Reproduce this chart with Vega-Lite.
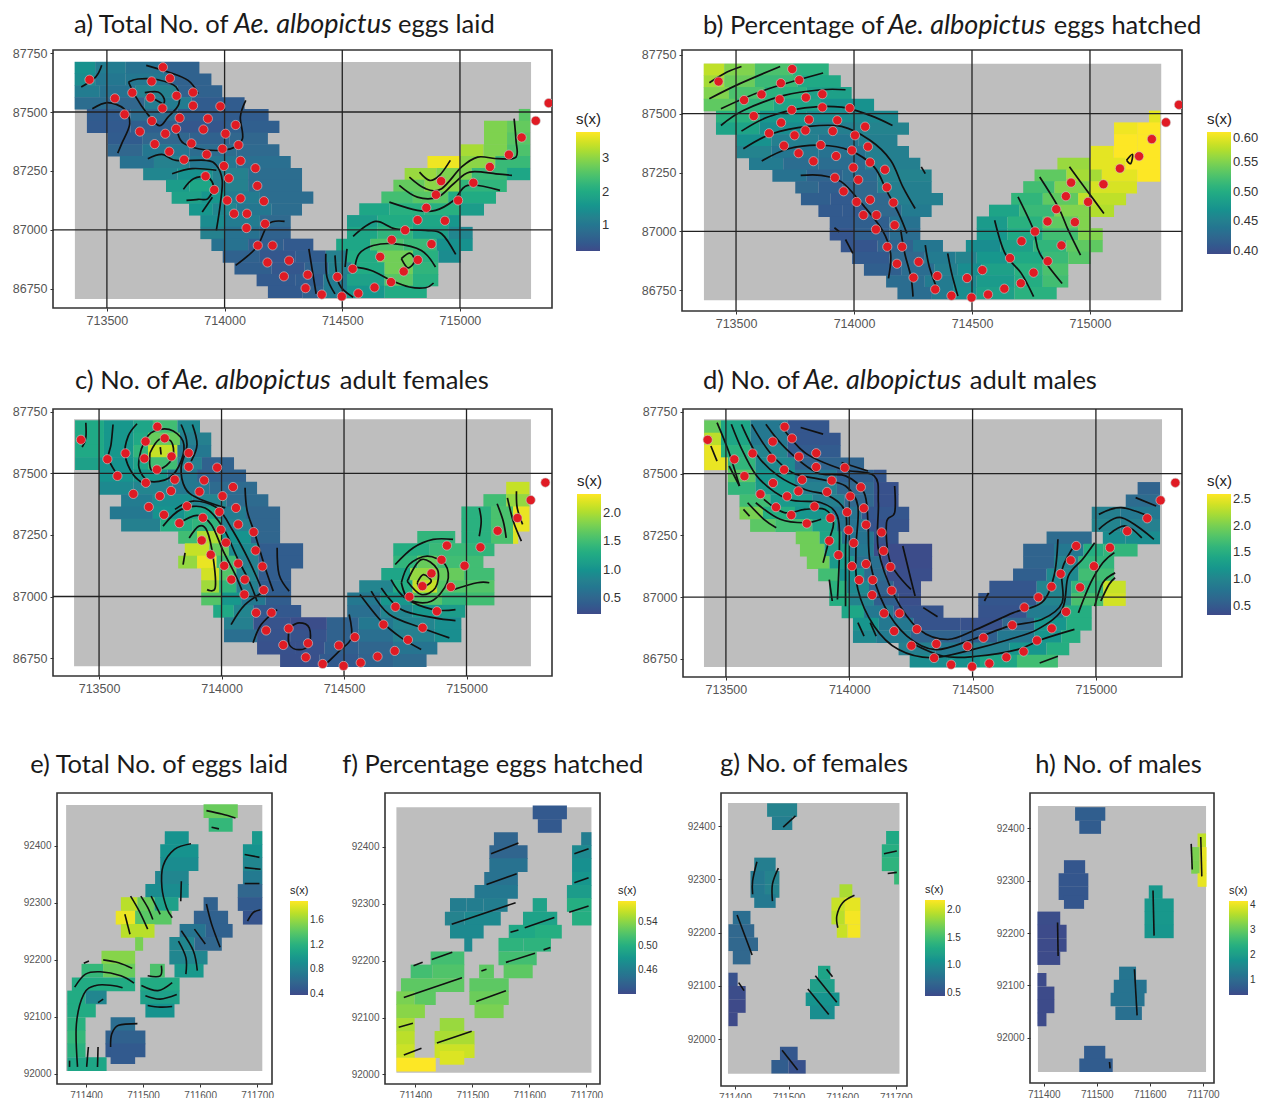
{"$schema":"https://vega.github.io/schema/vega-lite/v6.json","padding":{"left":11,"top":10,"right":0,"bottom":0},"background":"white","spacing":0,"bounds":"full","resolve":{"scale":{"color":"independent"}},
"config":{"view":{"stroke":"#333","strokeWidth":1.6,"fill":"white"},"axis":{"domain":false,"grid":false,"title":null,"format":"d","tickColor":"#333","tickSize":3,"labelColor":"#555","labelFont":"Liberation Sans","labelFontSize":12.5,"labelPadding":3},"legend":{"titleFont":"Liberation Sans","labelFont":"Liberation Sans","titleFontWeight":"normal","titleColor":"#222","labelColor":"#333","gradientStrokeWidth":0,"orient":"none","labelOffset":7},"range":{"heatmap":["#3E4A89","#31688E","#26828E","#1F9E89","#35B779","#6DCD59","#B4DE2C","#FDE725"],"ramp":["#3E4A89","#31688E","#26828E","#1F9E89","#35B779","#6DCD59","#B4DE2C","#FDE725"]}},
"datasets":{
"pts":[{"x":713426,"y":87637},{"x":713534,"y":87558},{"x":713608,"y":87582},{"x":713575,"y":87490},{"x":713640,"y":87417},{"x":713690,"y":87630},{"x":713685,"y":87561},{"x":713738,"y":87690},{"x":713768,"y":87643},{"x":713796,"y":87569},{"x":713866,"y":87583},{"x":713866,"y":87527},{"x":713736,"y":87516},{"x":713691,"y":87462},{"x":713809,"y":87475},{"x":713794,"y":87429},{"x":713748,"y":87408},{"x":713703,"y":87364},{"x":713765,"y":87332},{"x":713828,"y":87298},{"x":713859,"y":87367},{"x":713910,"y":87426},{"x":713929,"y":87472},{"x":713982,"y":87524},{"x":714047,"y":87445},{"x":714004,"y":87408},{"x":713991,"y":87344},{"x":714059,"y":87360},{"x":713924,"y":87320},{"x":714068,"y":87293},{"x":713997,"y":87271},{"x":714131,"y":87262},{"x":713919,"y":87228},{"x":714018,"y":87219},{"x":714139,"y":87187},{"x":713956,"y":87170},{"x":714068,"y":87134},{"x":714011,"y":87125},{"x":714167,"y":87122},{"x":714040,"y":87069},{"x":714095,"y":87069},{"x":714172,"y":87026},{"x":714093,"y":87008},{"x":714141,"y":86934},{"x":714204,"y":86934},{"x":714182,"y":86862},{"x":714274,"y":86870},{"x":714252,"y":86803},{"x":714353,"y":86810},{"x":714344,"y":86753},{"x":714413,"y":86726},{"x":714479,"y":86801},{"x":714498,"y":86718},{"x":714544,"y":86835},{"x":714568,"y":86731},{"x":714637,"y":86756},{"x":714661,"y":86886},{"x":714710,"y":86958},{"x":714707,"y":86779},{"x":714761,"y":86824},{"x":714821,"y":86873},{"x":714767,"y":86999},{"x":714820,"y":87042},{"x":714879,"y":86940},{"x":714936,"y":87039},{"x":714857,"y":87094},{"x":714992,"y":87125},{"x":714898,"y":87149},{"x":714920,"y":87207},{"x":715057,"y":87200},{"x":715127,"y":87267},{"x":715208,"y":87319},{"x":715262,"y":87392},{"x":715322,"y":87463},{"x":715377,"y":87538}],
"gx":[{"x":713500},{"x":714000},{"x":714500},{"x":715000}],
"gy":[{"y":87500},{"y":87000}],
"ab":[
{"x":713363,"x2":713450,"y":87687,"a":1.5,"b":0.575},{"x":713450,"x2":713580,"y":87687,"a":1.1,"b":0.55},{"x":713580,"x2":713740,"y":87687,"a":0.9,"b":0.525},{"x":713740,"x2":713893,"y":87687,"a":0.6,"b":0.505},
{"x":713363,"x2":713450,"y":87637,"a":1.4,"b":0.565},{"x":713450,"x2":713580,"y":87637,"a":1.0,"b":0.54},{"x":713580,"x2":713760,"y":87637,"a":1.0,"b":0.515},{"x":713760,"x2":713944,"y":87637,"a":0.6,"b":0.495},
{"x":713363,"x2":713470,"y":87587,"a":1.1,"b":0.55},{"x":713470,"x2":713620,"y":87587,"a":0.9,"b":0.525},{"x":713620,"x2":713800,"y":87587,"a":1.2,"b":0.505},{"x":713800,"x2":713990,"y":87587,"a":0.6,"b":0.485},
{"x":713363,"x2":713500,"y":87537,"a":0.8,"b":0.535},{"x":713500,"x2":713660,"y":87537,"a":0.7,"b":0.51},{"x":713660,"x2":713860,"y":87537,"a":1.1,"b":0.49},{"x":713860,"x2":714085,"y":87537,"a":0.5,"b":0.47},
{"x":713415,"x2":713600,"y":87487,"a":0.5,"b":0.505},{"x":713600,"x2":713800,"y":87487,"a":0.8,"b":0.475},{"x":713800,"x2":714000,"y":87487,"a":0.5,"b":0.465},{"x":714000,"x2":714187,"y":87487,"a":0.5,"b":0.46},{"x":715250,"x2":715298,"y":87487,"a":2.6,"b":0.59},
{"x":713415,"x2":713600,"y":87437,"a":0.45,"b":0.49},{"x":713600,"x2":713800,"y":87437,"a":0.55,"b":0.465},{"x":713800,"x2":714000,"y":87437,"a":0.4,"b":0.45},{"x":714000,"x2":714233,"y":87437,"a":0.55,"b":0.455},{"x":715102,"x2":715200,"y":87437,"a":2.9,"b":0.595},{"x":715200,"x2":715298,"y":87437,"a":2.7,"b":0.6},
{"x":713503,"x2":713650,"y":87387,"a":0.5,"b":0.47},{"x":713650,"x2":713850,"y":87387,"a":0.7,"b":0.45},{"x":713850,"x2":714020,"y":87387,"a":0.6,"b":0.44},{"x":714020,"x2":714184,"y":87387,"a":0.7,"b":0.45},{"x":715102,"x2":715200,"y":87387,"a":2.9,"b":0.6},{"x":715200,"x2":715298,"y":87387,"a":2.6,"b":0.6},
{"x":713503,"x2":713650,"y":87337,"a":0.7,"b":0.455},{"x":713650,"x2":713850,"y":87337,"a":1.0,"b":0.44},{"x":713850,"x2":714050,"y":87337,"a":0.8,"b":0.435},{"x":714050,"x2":714233,"y":87337,"a":0.75,"b":0.45},{"x":715003,"x2":715100,"y":87337,"a":3.2,"b":0.59},{"x":715100,"x2":715200,"y":87337,"a":2.9,"b":0.6},{"x":715200,"x2":715298,"y":87337,"a":2.5,"b":0.6},
{"x":713555,"x2":713700,"y":87287,"a":0.9,"b":0.445},{"x":713700,"x2":713850,"y":87287,"a":1.2,"b":0.43},{"x":713850,"x2":714050,"y":87287,"a":1.0,"b":0.43},{"x":714050,"x2":714281,"y":87287,"a":0.85,"b":0.45},{"x":714862,"x2":715000,"y":87287,"a":3.7,"b":0.56},{"x":715000,"x2":715150,"y":87287,"a":3.0,"b":0.59},{"x":715150,"x2":715298,"y":87287,"a":2.3,"b":0.6},
{"x":713654,"x2":713800,"y":87237,"a":1.3,"b":0.435},{"x":713800,"x2":713950,"y":87237,"a":1.5,"b":0.42},{"x":713950,"x2":714100,"y":87237,"a":1.2,"b":0.43},{"x":714100,"x2":714329,"y":87237,"a":0.8,"b":0.455},{"x":714765,"x2":714900,"y":87237,"a":3.1,"b":0.535},{"x":714900,"x2":715050,"y":87237,"a":2.9,"b":0.565},{"x":715050,"x2":715200,"y":87237,"a":2.3,"b":0.59},{"x":715200,"x2":715298,"y":87237,"a":1.9,"b":0.6},
{"x":713751,"x2":713850,"y":87187,"a":1.7,"b":0.425},{"x":713850,"x2":713950,"y":87187,"a":1.9,"b":0.415},{"x":713950,"x2":714100,"y":87187,"a":1.2,"b":0.425},{"x":714100,"x2":714329,"y":87187,"a":0.8,"b":0.45},{"x":714717,"x2":714850,"y":87187,"a":2.7,"b":0.52},{"x":714850,"x2":715000,"y":87187,"a":3.0,"b":0.55},{"x":715000,"x2":715199,"y":87187,"a":2.2,"b":0.585},
{"x":713775,"x2":713900,"y":87137,"a":1.8,"b":0.415},{"x":713900,"x2":714000,"y":87137,"a":1.6,"b":0.41},{"x":714000,"x2":714150,"y":87137,"a":1.1,"b":0.425},{"x":714150,"x2":714377,"y":87137,"a":0.8,"b":0.45},{"x":714666,"x2":714800,"y":87137,"a":2.4,"b":0.51},{"x":714800,"x2":714950,"y":87137,"a":2.6,"b":0.535},{"x":714950,"x2":715153,"y":87137,"a":2.0,"b":0.575},
{"x":713849,"x2":713950,"y":87087,"a":1.6,"b":0.41},{"x":713950,"x2":714050,"y":87087,"a":1.3,"b":0.41},{"x":714050,"x2":714200,"y":87087,"a":1.0,"b":0.425},{"x":714200,"x2":714329,"y":87087,"a":0.8,"b":0.445},{"x":714572,"x2":714700,"y":87087,"a":1.9,"b":0.49},{"x":714700,"x2":714850,"y":87087,"a":2.1,"b":0.515},{"x":714850,"x2":715000,"y":87087,"a":2.1,"b":0.55},{"x":715000,"x2":715102,"y":87087,"a":1.7,"b":0.57},
{"x":713897,"x2":714000,"y":87037,"a":1.4,"b":0.41},{"x":714000,"x2":714150,"y":87037,"a":1.1,"b":0.415},{"x":714150,"x2":714281,"y":87037,"a":0.75,"b":0.435},{"x":714520,"x2":714650,"y":87037,"a":1.7,"b":0.48},{"x":714650,"x2":714800,"y":87037,"a":2.0,"b":0.505},{"x":714800,"x2":714950,"y":87037,"a":1.9,"b":0.535},{"x":714950,"x2":715003,"y":87037,"a":1.6,"b":0.55},
{"x":713897,"x2":714000,"y":86987,"a":1.2,"b":0.405},{"x":714000,"x2":714150,"y":86987,"a":0.9,"b":0.415},{"x":714150,"x2":714281,"y":86987,"a":0.6,"b":0.43},{"x":714520,"x2":714650,"y":86987,"a":1.9,"b":0.475},{"x":714650,"x2":714800,"y":86987,"a":2.2,"b":0.495},{"x":714800,"x2":714950,"y":86987,"a":1.8,"b":0.52},{"x":714950,"x2":715054,"y":86987,"a":1.3,"b":0.55},
{"x":713944,"x2":714100,"y":86937,"a":0.9,"b":0.405},{"x":714100,"x2":714250,"y":86937,"a":0.55,"b":0.42},{"x":714250,"x2":714377,"y":86937,"a":0.45,"b":0.44},{"x":714474,"x2":714620,"y":86937,"a":1.9,"b":0.465},{"x":714620,"x2":714760,"y":86937,"a":2.5,"b":0.485},{"x":714760,"x2":714900,"y":86937,"a":2.3,"b":0.51},{"x":714900,"x2":715054,"y":86937,"a":1.5,"b":0.535},
{"x":713992,"x2":714150,"y":86887,"a":0.6,"b":0.41},{"x":714150,"x2":714300,"y":86887,"a":0.4,"b":0.425},{"x":714300,"x2":714430,"y":86887,"a":0.5,"b":0.445},{"x":714430,"x2":714520,"y":86887,"a":1.2,"b":0.455},{"x":714520,"x2":714650,"y":86887,"a":2.0,"b":0.475},{"x":714650,"x2":714800,"y":86887,"a":2.8,"b":0.495},{"x":714800,"x2":714908,"y":86887,"a":2.1,"b":0.515},{"x":714908,"x2":715003,"y":86887,"a":1.4,"b":0.53},
{"x":714042,"x2":714200,"y":86837,"a":0.55,"b":0.415},{"x":714200,"x2":714340,"y":86837,"a":0.4,"b":0.43},{"x":714340,"x2":714440,"y":86837,"a":0.6,"b":0.45},{"x":714440,"x2":714540,"y":86837,"a":1.2,"b":0.465},{"x":714540,"x2":714680,"y":86837,"a":2.0,"b":0.485},{"x":714680,"x2":714800,"y":86837,"a":2.8,"b":0.505},{"x":714800,"x2":714908,"y":86837,"a":2.2,"b":0.525},
{"x":714136,"x2":714300,"y":86787,"a":0.45,"b":0.43},{"x":714300,"x2":714420,"y":86787,"a":0.5,"b":0.445},{"x":714420,"x2":714520,"y":86787,"a":1.1,"b":0.46},{"x":714520,"x2":714680,"y":86787,"a":1.8,"b":0.48},{"x":714680,"x2":714800,"y":86787,"a":2.6,"b":0.5},{"x":714800,"x2":714908,"y":86787,"a":2.1,"b":0.52},
{"x":714184,"x2":714330,"y":86737,"a":0.45,"b":0.43},{"x":714330,"x2":714420,"y":86737,"a":0.6,"b":0.445},{"x":714420,"x2":714520,"y":86737,"a":1.1,"b":0.465},{"x":714520,"x2":714680,"y":86737,"a":1.6,"b":0.485},{"x":714680,"x2":714859,"y":86737,"a":2.0,"b":0.505}],
"cc":[
{"x":713402,"x2":713520,"y":87690,"v":1.25},{"x":713520,"x2":713640,"y":87690,"v":1.05},{"x":713640,"x2":713720,"y":87690,"v":1.2},{"x":713720,"x2":713820,"y":87690,"v":1.5},{"x":713820,"x2":713912,"y":87690,"v":0.9},
{"x":713402,"x2":713520,"y":87640,"v":1.25},{"x":713520,"x2":713640,"y":87640,"v":1.05},{"x":713640,"x2":713700,"y":87640,"v":1.25},{"x":713700,"x2":713830,"y":87640,"v":1.7},{"x":713830,"x2":713958,"y":87640,"v":0.8},
{"x":713402,"x2":713520,"y":87590,"v":1.25},{"x":713520,"x2":713640,"y":87590,"v":1.05},{"x":713640,"x2":713700,"y":87590,"v":1.4},{"x":713700,"x2":713820,"y":87590,"v":2.1},{"x":713820,"x2":713958,"y":87590,"v":0.7},
{"x":713402,"x2":713500,"y":87540,"v":1.15},{"x":713500,"x2":713640,"y":87540,"v":1.0},{"x":713640,"x2":713700,"y":87540,"v":1.2},{"x":713700,"x2":713820,"y":87540,"v":1.5},{"x":713820,"x2":713920,"y":87540,"v":0.8},{"x":713920,"x2":714051,"y":87540,"v":0.45},
{"x":713500,"x2":713640,"y":87490,"v":1.0},{"x":713640,"x2":713780,"y":87490,"v":1.05},{"x":713780,"x2":713900,"y":87490,"v":0.7},{"x":713900,"x2":714100,"y":87490,"v":0.45},
{"x":713500,"x2":713640,"y":87440,"v":0.9},{"x":713640,"x2":713800,"y":87440,"v":0.85},{"x":713800,"x2":713950,"y":87440,"v":0.7},{"x":713950,"x2":714145,"y":87440,"v":0.55},{"x":715162,"x2":715257,"y":87440,"v":2.1},
{"x":713590,"x2":713720,"y":87390,"v":0.75},{"x":713720,"x2":713880,"y":87390,"v":0.95},{"x":713880,"x2":714020,"y":87390,"v":0.85},{"x":714020,"x2":714191,"y":87390,"v":0.55},{"x":715069,"x2":715162,"y":87390,"v":1.5},{"x":715162,"x2":715257,"y":87390,"v":1.9},
{"x":713544,"x2":713720,"y":87340,"v":0.7},{"x":713720,"x2":713850,"y":87340,"v":1.0},{"x":713850,"x2":713980,"y":87340,"v":1.2},{"x":713980,"x2":714100,"y":87340,"v":0.75},{"x":714100,"x2":714239,"y":87340,"v":0.5},{"x":714979,"x2":715100,"y":87340,"v":1.35},{"x":715100,"x2":715190,"y":87340,"v":1.55},{"x":715190,"x2":715257,"y":87340,"v":2.25},
{"x":713590,"x2":713750,"y":87290,"v":0.8},{"x":713750,"x2":713880,"y":87290,"v":1.3},{"x":713880,"x2":714000,"y":87290,"v":1.4},{"x":714000,"x2":714120,"y":87290,"v":0.8},{"x":714120,"x2":714239,"y":87290,"v":0.5},{"x":714979,"x2":715100,"y":87290,"v":1.35},{"x":715100,"x2":715190,"y":87290,"v":1.55},{"x":715190,"x2":715257,"y":87290,"v":2.25},
{"x":713823,"x2":713900,"y":87240,"v":1.5},{"x":713900,"x2":714000,"y":87240,"v":2.0},{"x":714000,"x2":714120,"y":87240,"v":1.0},{"x":714120,"x2":714239,"y":87240,"v":0.5},{"x":714799,"x2":714954,"y":87240,"v":1.4},{"x":714979,"x2":715100,"y":87240,"v":1.35},{"x":715100,"x2":715190,"y":87240,"v":1.55},{"x":715190,"x2":715211,"y":87240,"v":2.2},
{"x":713850,"x2":713950,"y":87190,"v":2.1},{"x":713950,"x2":714030,"y":87190,"v":1.7},{"x":714030,"x2":714150,"y":87190,"v":0.9},{"x":714150,"x2":714333,"y":87190,"v":0.4},{"x":714701,"x2":714850,"y":87190,"v":1.3},{"x":714850,"x2":715000,"y":87190,"v":1.45},{"x":715000,"x2":715114,"y":87190,"v":1.4},
{"x":713823,"x2":713900,"y":87140,"v":1.9},{"x":713900,"x2":713980,"y":87140,"v":2.25},{"x":713980,"x2":714060,"y":87140,"v":1.5},{"x":714060,"x2":714150,"y":87140,"v":0.8},{"x":714150,"x2":714333,"y":87140,"v":0.4},{"x":714701,"x2":714800,"y":87140,"v":1.4},{"x":714800,"x2":714880,"y":87140,"v":1.7},{"x":714880,"x2":715069,"y":87140,"v":1.5},
{"x":713917,"x2":713990,"y":87090,"v":2.15},{"x":713990,"x2":714060,"y":87090,"v":1.6},{"x":714060,"x2":714150,"y":87090,"v":0.85},{"x":714150,"x2":714284,"y":87090,"v":0.4},{"x":714652,"x2":714770,"y":87090,"v":1.2},{"x":714770,"x2":714880,"y":87090,"v":1.9},{"x":714880,"x2":714990,"y":87090,"v":1.7},{"x":714990,"x2":715114,"y":87090,"v":1.5},
{"x":713917,"x2":713990,"y":87040,"v":1.95},{"x":713990,"x2":714060,"y":87040,"v":1.4},{"x":714060,"x2":714150,"y":87040,"v":0.8},{"x":714150,"x2":714284,"y":87040,"v":0.4},{"x":714562,"x2":714700,"y":87040,"v":0.85},{"x":714700,"x2":714780,"y":87040,"v":1.3},{"x":714780,"x2":714880,"y":87040,"v":2.1},{"x":714880,"x2":715000,"y":87040,"v":1.6},{"x":715000,"x2":715114,"y":87040,"v":1.6},
{"x":713917,"x2":714000,"y":86990,"v":1.6},{"x":714000,"x2":714080,"y":86990,"v":1.05},{"x":714080,"x2":714180,"y":86990,"v":0.7},{"x":714180,"x2":714284,"y":86990,"v":0.4},{"x":714513,"x2":714650,"y":86990,"v":0.7},{"x":714650,"x2":714780,"y":86990,"v":1.05},{"x":714780,"x2":714900,"y":86990,"v":1.6},{"x":714900,"x2":715000,"y":86990,"v":1.4},{"x":715000,"x2":715114,"y":86990,"v":1.5},
{"x":713966,"x2":714050,"y":86940,"v":1.25},{"x":714050,"x2":714130,"y":86940,"v":0.85},{"x":714130,"x2":714325,"y":86940,"v":0.35},{"x":714513,"x2":714650,"y":86940,"v":0.6},{"x":714650,"x2":714780,"y":86940,"v":0.85},{"x":714780,"x2":714900,"y":86940,"v":1.05},{"x":714900,"x2":714995,"y":86940,"v":1.1},
{"x":714010,"x2":714130,"y":86890,"v":0.8},{"x":714130,"x2":714280,"y":86890,"v":0.3},{"x":714280,"x2":714430,"y":86890,"v":0.25},{"x":714430,"x2":714560,"y":86890,"v":0.45},{"x":714560,"x2":714700,"y":86890,"v":0.7},{"x":714700,"x2":714870,"y":86890,"v":0.85},{"x":714870,"x2":714979,"y":86890,"v":0.95},
{"x":714010,"x2":714145,"y":86840,"v":0.6},{"x":714145,"x2":714280,"y":86840,"v":0.3},{"x":714280,"x2":714430,"y":86840,"v":0.3},{"x":714430,"x2":714560,"y":86840,"v":0.45},{"x":714560,"x2":714700,"y":86840,"v":0.6},{"x":714700,"x2":714870,"y":86840,"v":0.8},{"x":714870,"x2":714979,"y":86840,"v":0.95},
{"x":714145,"x2":714300,"y":86790,"v":0.28},{"x":714300,"x2":714420,"y":86790,"v":0.28},{"x":714420,"x2":714560,"y":86790,"v":0.42},{"x":714560,"x2":714700,"y":86790,"v":0.5},{"x":714700,"x2":714881,"y":86790,"v":0.65},
{"x":714239,"x2":714400,"y":86740,"v":0.27},{"x":714400,"x2":714560,"y":86740,"v":0.38},{"x":714560,"x2":714700,"y":86740,"v":0.48},{"x":714700,"x2":714837,"y":86740,"v":0.55}],
"dd":[
{"x":713412,"x2":713480,"y":87690,"v":1.9},{"x":713480,"x2":713600,"y":87690,"v":1.4},{"x":713600,"x2":713750,"y":87690,"v":0.85},{"x":713750,"x2":713919,"y":87690,"v":0.45},
{"x":713412,"x2":713480,"y":87640,"v":2.3},{"x":713480,"x2":713600,"y":87640,"v":1.4},{"x":713600,"x2":713750,"y":87640,"v":0.85},{"x":713750,"x2":713965,"y":87640,"v":0.45},
{"x":713412,"x2":713480,"y":87590,"v":2.5},{"x":713480,"x2":713600,"y":87590,"v":1.55},{"x":713600,"x2":713750,"y":87590,"v":1.0},{"x":713750,"x2":713965,"y":87590,"v":0.5},
{"x":713412,"x2":713508,"y":87540,"v":2.5},{"x":713508,"x2":713620,"y":87540,"v":1.6},{"x":713620,"x2":713780,"y":87540,"v":1.05},{"x":713780,"x2":714060,"y":87540,"v":0.6},
{"x":713508,"x2":713620,"y":87490,"v":1.85},{"x":713620,"x2":713780,"y":87490,"v":1.2},{"x":713780,"x2":713950,"y":87490,"v":0.85},{"x":713950,"x2":714100,"y":87490,"v":0.55},{"x":714100,"x2":714151,"y":87490,"v":0.45},
{"x":713508,"x2":713620,"y":87440,"v":1.6},{"x":713620,"x2":713780,"y":87440,"v":1.25},{"x":713780,"x2":713950,"y":87440,"v":0.95},{"x":713950,"x2":714100,"y":87440,"v":0.65},{"x":714100,"x2":714200,"y":87440,"v":0.4},{"x":715169,"x2":715260,"y":87440,"v":0.6},
{"x":713555,"x2":713680,"y":87390,"v":1.7},{"x":713680,"x2":713850,"y":87390,"v":1.25},{"x":713850,"x2":713980,"y":87390,"v":0.95},{"x":713980,"x2":714100,"y":87390,"v":0.65},{"x":714100,"x2":714200,"y":87390,"v":0.4},{"x":715121,"x2":715260,"y":87390,"v":0.7},
{"x":713555,"x2":713650,"y":87340,"v":2.0},{"x":713650,"x2":713780,"y":87340,"v":1.5},{"x":713780,"x2":713930,"y":87340,"v":1.2},{"x":713930,"x2":714050,"y":87340,"v":0.8},{"x":714050,"x2":714243,"y":87340,"v":0.45},{"x":714983,"x2":715100,"y":87340,"v":0.95},{"x":715100,"x2":715260,"y":87340,"v":0.85},
{"x":713598,"x2":713700,"y":87290,"v":1.85},{"x":713700,"x2":713850,"y":87290,"v":1.7},{"x":713850,"x2":713950,"y":87290,"v":1.35},{"x":713950,"x2":714070,"y":87290,"v":0.8},{"x":714070,"x2":714243,"y":87290,"v":0.42},{"x":714983,"x2":715100,"y":87290,"v":1.0},{"x":715100,"x2":715260,"y":87290,"v":0.95},
{"x":713783,"x2":713880,"y":87240,"v":1.95},{"x":713880,"x2":713970,"y":87240,"v":1.4},{"x":713970,"x2":714100,"y":87240,"v":0.8},{"x":714100,"x2":714200,"y":87240,"v":0.42},{"x":714800,"x2":714983,"y":87240,"v":0.7},{"x":715028,"x2":715120,"y":87240,"v":1.1},{"x":715120,"x2":715260,"y":87240,"v":1.1},
{"x":713800,"x2":713900,"y":87190,"v":1.95},{"x":713900,"x2":714000,"y":87190,"v":1.3},{"x":714000,"x2":714100,"y":87190,"v":0.85},{"x":714100,"x2":714336,"y":87190,"v":0.35},{"x":714705,"x2":714830,"y":87190,"v":0.6},{"x":714830,"x2":714950,"y":87190,"v":0.85},{"x":714950,"x2":715030,"y":87190,"v":1.5},{"x":715030,"x2":715169,"y":87190,"v":1.6},
{"x":713828,"x2":713920,"y":87140,"v":1.95},{"x":713920,"x2":714020,"y":87140,"v":1.25},{"x":714020,"x2":714130,"y":87140,"v":0.75},{"x":714130,"x2":714336,"y":87140,"v":0.35},{"x":714705,"x2":714830,"y":87140,"v":0.6},{"x":714830,"x2":714930,"y":87140,"v":1.0},{"x":714930,"x2":715074,"y":87140,"v":1.6},
{"x":713874,"x2":713960,"y":87090,"v":1.7},{"x":713960,"x2":714060,"y":87090,"v":1.15},{"x":714060,"x2":714150,"y":87090,"v":0.7},{"x":714150,"x2":714336,"y":87090,"v":0.37},{"x":714664,"x2":714800,"y":87090,"v":0.55},{"x":714800,"x2":714930,"y":87090,"v":1.05},{"x":714930,"x2":715074,"y":87090,"v":1.7},
{"x":713919,"x2":713990,"y":87040,"v":1.55},{"x":713990,"x2":714080,"y":87040,"v":1.05},{"x":714080,"x2":714180,"y":87040,"v":0.6},{"x":714180,"x2":714291,"y":87040,"v":0.38},{"x":714568,"x2":714760,"y":87040,"v":0.45},{"x":714760,"x2":714900,"y":87040,"v":1.0},{"x":714900,"x2":715030,"y":87040,"v":1.6},{"x":715030,"x2":715121,"y":87040,"v":2.35},
{"x":713919,"x2":714000,"y":86990,"v":1.5},{"x":714000,"x2":714100,"y":86990,"v":1.0},{"x":714100,"x2":714200,"y":86990,"v":0.55},{"x":714200,"x2":714291,"y":86990,"v":0.38},{"x":714523,"x2":714760,"y":86990,"v":0.45},{"x":714760,"x2":714900,"y":86990,"v":1.0},{"x":714900,"x2":715030,"y":86990,"v":1.75},{"x":715030,"x2":715121,"y":86990,"v":2.4},
{"x":713969,"x2":714060,"y":86940,"v":1.4},{"x":714060,"x2":714180,"y":86940,"v":0.85},{"x":714180,"x2":714382,"y":86940,"v":0.42},{"x":714523,"x2":714720,"y":86940,"v":0.42},{"x":714720,"x2":714870,"y":86940,"v":0.9},{"x":714870,"x2":714983,"y":86940,"v":1.5},
{"x":714015,"x2":714120,"y":86890,"v":1.2},{"x":714120,"x2":714260,"y":86890,"v":0.85},{"x":714260,"x2":714450,"y":86890,"v":0.42},{"x":714450,"x2":714620,"y":86890,"v":0.4},{"x":714620,"x2":714750,"y":86890,"v":0.65},{"x":714750,"x2":714880,"y":86890,"v":1.2},{"x":714880,"x2":714983,"y":86890,"v":1.5},
{"x":714015,"x2":714109,"y":86840,"v":1.05},{"x":714109,"x2":714250,"y":86840,"v":0.9},{"x":714250,"x2":714450,"y":86840,"v":0.6},{"x":714450,"x2":714600,"y":86840,"v":0.55},{"x":714600,"x2":714750,"y":86840,"v":0.85},{"x":714750,"x2":714860,"y":86840,"v":1.2},{"x":714860,"x2":714937,"y":86840,"v":1.5},
{"x":714200,"x2":714350,"y":86790,"v":0.95},{"x":714350,"x2":714500,"y":86790,"v":0.85},{"x":714500,"x2":714650,"y":86790,"v":0.95},{"x":714650,"x2":714800,"y":86790,"v":1.2},{"x":714800,"x2":714892,"y":86790,"v":1.5},
{"x":714245,"x2":714400,"y":86740,"v":1.1},{"x":714400,"x2":714530,"y":86740,"v":1.15},{"x":714530,"x2":714680,"y":86740,"v":1.4},{"x":714680,"x2":714846,"y":86740,"v":1.7}],
"ef":[
{"x":711606,"x2":711666,"y":92461,"e":1.45,"f":0.43},{"x":711615,"x2":711657,"y":92437,"e":1.25,"f":0.43},
{"x":711538,"x2":711580,"y":92414,"e":0.95,"f":0.44},{"x":711691,"x2":711709,"y":92414,"e":1.0,"f":0.46},
{"x":711530,"x2":711597,"y":92391,"e":0.95,"f":0.44},{"x":711675,"x2":711709,"y":92391,"e":0.95,"f":0.47},
{"x":711530,"x2":711597,"y":92368,"e":0.9,"f":0.45},{"x":711675,"x2":711709,"y":92368,"e":0.85,"f":0.475},
{"x":711521,"x2":711580,"y":92344,"e":0.85,"f":0.45},{"x":711675,"x2":711709,"y":92344,"e":0.75,"f":0.48},
{"x":711504,"x2":711580,"y":92321,"e":0.9,"f":0.455},{"x":711666,"x2":711709,"y":92321,"e":0.6,"f":0.485},
{"x":711461,"x2":711490,"y":92298,"e":1.7,"f":0.46},{"x":711490,"x2":711520,"y":92298,"e":1.45,"f":0.46},{"x":711520,"x2":711562,"y":92298,"e":1.05,"f":0.46},{"x":711606,"x2":711631,"y":92298,"e":0.55,"f":0.49},{"x":711666,"x2":711709,"y":92298,"e":0.5,"f":0.5},
{"x":711452,"x2":711486,"y":92274,"e":1.85,"f":0.465},{"x":711486,"x2":711550,"y":92274,"e":1.4,"f":0.47},{"x":711589,"x2":711649,"y":92274,"e":0.55,"f":0.49},{"x":711675,"x2":711709,"y":92274,"e":0.45,"f":0.5},
{"x":711461,"x2":711520,"y":92251,"e":1.7,"f":0.47},{"x":711564,"x2":711610,"y":92251,"e":0.7,"f":0.495},{"x":711610,"x2":711657,"y":92251,"e":0.55,"f":0.5},
{"x":711486,"x2":711500,"y":92228,"e":1.5,"f":0.47},{"x":711546,"x2":711590,"y":92228,"e":0.85,"f":0.505},{"x":711590,"x2":711638,"y":92228,"e":0.6,"f":0.505},
{"x":711427,"x2":711486,"y":92204,"e":1.55,"f":0.515},{"x":711546,"x2":711613,"y":92204,"e":0.85,"f":0.515},
{"x":711392,"x2":711430,"y":92181,"e":1.25,"f":0.515},{"x":711430,"x2":711486,"y":92181,"e":1.45,"f":0.52},{"x":711512,"x2":711538,"y":92181,"e":1.35,"f":0.525},{"x":711555,"x2":711606,"y":92181,"e":1.0,"f":0.525},
{"x":711375,"x2":711486,"y":92157,"e":1.15,"f":0.525},{"x":711495,"x2":711564,"y":92157,"e":1.15,"f":0.525},
{"x":711367,"x2":711399,"y":92134,"e":1.15,"f":0.535},{"x":711399,"x2":711436,"y":92134,"e":0.85,"f":0.525},{"x":711495,"x2":711564,"y":92134,"e":1.05,"f":0.53},
{"x":711367,"x2":711417,"y":92111,"e":1.15,"f":0.54},{"x":711504,"x2":711555,"y":92111,"e":0.95,"f":0.535},
{"x":711367,"x2":711399,"y":92087,"e":1.2,"f":0.55},{"x":711443,"x2":711486,"y":92087,"e":0.65,"f":0.545},
{"x":711367,"x2":711399,"y":92064,"e":1.25,"f":0.555},{"x":711434,"x2":711504,"y":92064,"e":0.55,"f":0.55},
{"x":711367,"x2":711399,"y":92041,"e":1.2,"f":0.56},{"x":711434,"x2":711504,"y":92041,"e":0.5,"f":0.56},
{"x":711367,"x2":711436,"y":92017,"e":1.1,"f":0.575},{"x":711443,"x2":711486,"y":92029,"e":0.5,"f":0.565}],
"gg":[
{"x":711460,"x2":711516,"y":92430,"v":0.95},{"x":711469,"x2":711507,"y":92405,"v":0.9},{"x":711682,"x2":711706,"y":92378,"v":1.3},{"x":711674,"x2":711706,"y":92353,"v":1.35},{"x":711674,"x2":711706,"y":92328,"v":1.4},{"x":711697,"x2":711706,"y":92303,"v":1.45},
{"x":711436,"x2":711476,"y":92328,"v":0.9},{"x":711429,"x2":711456,"y":92303,"v":0.85},{"x":711456,"x2":711483,"y":92303,"v":0.95},{"x":711429,"x2":711456,"y":92278,"v":0.85},{"x":711456,"x2":711483,"y":92278,"v":0.95},{"x":711436,"x2":711476,"y":92259,"v":0.85},
{"x":711595,"x2":711619,"y":92278,"v":1.9},{"x":711580,"x2":711605,"y":92253,"v":2.0},{"x":711605,"x2":711634,"y":92253,"v":2.1},{"x":711580,"x2":711605,"y":92228,"v":1.95},{"x":711605,"x2":711634,"y":92228,"v":2.15},{"x":711590,"x2":711610,"y":92203,"v":2.0},{"x":711610,"x2":711634,"y":92203,"v":2.15},
{"x":711396,"x2":711429,"y":92228,"v":0.75},{"x":711388,"x2":711436,"y":92203,"v":0.7},{"x":711388,"x2":711443,"y":92178,"v":0.7},{"x":711396,"x2":711429,"y":92153,"v":0.7},
{"x":711388,"x2":711405,"y":92112,"v":0.5},{"x":711388,"x2":711420,"y":92087,"v":0.47},{"x":711388,"x2":711420,"y":92062,"v":0.45},{"x":711388,"x2":711405,"y":92037,"v":0.45},
{"x":711555,"x2":711578,"y":92125,"v":1.25},{"x":711540,"x2":711586,"y":92100,"v":1.2},{"x":711532,"x2":711595,"y":92075,"v":1.1},{"x":711540,"x2":711586,"y":92050,"v":1.05},
{"x":711484,"x2":711517,"y":91973,"v":0.55},{"x":711468,"x2":711500,"y":91948,"v":0.6},{"x":711500,"x2":711532,"y":91948,"v":0.5}],
"hh":[
{"x":711459,"x2":711516,"y":92427,"v":0.75},{"x":711467,"x2":711508,"y":92402,"v":0.7},{"x":711690,"x2":711706,"y":92377,"v":3.7},{"x":711678,"x2":711694,"y":92351,"v":3.2},{"x":711694,"x2":711707,"y":92351,"v":4.0},{"x":711678,"x2":711694,"y":92326,"v":3.2},{"x":711694,"x2":711707,"y":92326,"v":4.0},{"x":711690,"x2":711707,"y":92301,"v":4.0},
{"x":711438,"x2":711478,"y":92326,"v":0.6},{"x":711428,"x2":711484,"y":92301,"v":0.6},{"x":711428,"x2":711484,"y":92276,"v":0.6},{"x":711438,"x2":711476,"y":92259,"v":0.6},
{"x":711598,"x2":711624,"y":92278,"v":1.9},{"x":711590,"x2":711645,"y":92253,"v":1.9},{"x":711590,"x2":711645,"y":92228,"v":1.9},{"x":711590,"x2":711645,"y":92203,"v":1.85},
{"x":711388,"x2":711431,"y":92228,"v":0.45},{"x":711388,"x2":711443,"y":92203,"v":0.42},{"x":711388,"x2":711443,"y":92177,"v":0.42},{"x":711388,"x2":711431,"y":92152,"v":0.42},
{"x":711542,"x2":711574,"y":92123,"v":1.2},{"x":711532,"x2":711594,"y":92098,"v":1.15},{"x":711526,"x2":711590,"y":92073,"v":1.15},{"x":711535,"x2":711585,"y":92047,"v":1.1},
{"x":711388,"x2":711405,"y":92111,"v":0.42},{"x":711388,"x2":711420,"y":92085,"v":0.42},{"x":711388,"x2":711420,"y":92060,"v":0.42},{"x":711388,"x2":711405,"y":92035,"v":0.42},
{"x":711476,"x2":711516,"y":91972,"v":0.7},{"x":711467,"x2":711530,"y":91948,"v":0.7}],
"la":[{"g":1,"x":713391,"y":87606},{"g":1,"x":713452,"y":87648},{"g":1,"x":713478,"y":87698},{"g":2,"x":713592,"y":87627},{"g":2,"x":713632,"y":87640},{"g":2,"x":713717,"y":87637},{"g":2,"x":713794,"y":87606},{"g":2,"x":713806,"y":87535},{"g":2,"x":713760,"y":87479},{"g":2,"x":713722,"y":87442},{"g":2,"x":713666,"y":87500},{"g":2,"x":713623,"y":87564},{"g":2,"x":713592,"y":87627},{"g":3,"x":713661,"y":87582},{"g":3,"x":713717,"y":87585},{"g":3,"x":713743,"y":87557},{"g":3,"x":713739,"y":87535},{"g":3,"x":713712,"y":87549},{"g":3,"x":713666,"y":87571},{"g":4,"x":713667,"y":87698},{"g":4,"x":713760,"y":87670},{"g":4,"x":713845,"y":87634},{"g":4,"x":713888,"y":87578},{"g":5,"x":713438,"y":87514},{"g":5,"x":713503,"y":87540},{"g":5,"x":713572,"y":87514},{"g":5,"x":713597,"y":87450},{"g":5,"x":713563,"y":87366},{"g":5,"x":713546,"y":87326},{"g":6,"x":713802,"y":87408},{"g":6,"x":713828,"y":87366},{"g":6,"x":713914,"y":87340},{"g":6,"x":714025,"y":87344},{"g":6,"x":714076,"y":87387},{"g":6,"x":714067,"y":87479},{"g":6,"x":714090,"y":87549},{"g":7,"x":713674,"y":87302},{"g":7,"x":713734,"y":87320},{"g":7,"x":713794,"y":87295},{"g":7,"x":713922,"y":87295},{"g":7,"x":713965,"y":87274},{"g":7,"x":713990,"y":87210},{"g":7,"x":713982,"y":87111},{"g":7,"x":713965,"y":86998},{"g":8,"x":713777,"y":87238},{"g":8,"x":713862,"y":87260},{"g":8,"x":713965,"y":87253},{"g":9,"x":713825,"y":87172},{"g":9,"x":713868,"y":87217},{"g":9,"x":713928,"y":87224},{"g":9,"x":713953,"y":87182},{"g":9,"x":713928,"y":87132},{"g":9,"x":713888,"y":87130},{"g":9,"x":713838,"y":87125},{"g":10,"x":713905,"y":87076},{"g":10,"x":713948,"y":87139},{"g":11,"x":714047,"y":86850},{"g":11,"x":714136,"y":86927},{"g":11,"x":714187,"y":87026},{"g":11,"x":714255,"y":87036},{"g":12,"x":714358,"y":86920},{"g":12,"x":714375,"y":86814},{"g":12,"x":714389,"y":86729},{"g":13,"x":714430,"y":86899},{"g":13,"x":714435,"y":86800},{"g":13,"x":714469,"y":86729},{"g":14,"x":714469,"y":86892},{"g":14,"x":714486,"y":86772},{"g":14,"x":714546,"y":86715},{"g":15,"x":714520,"y":86920},{"g":15,"x":714512,"y":86843},{"g":16,"x":714554,"y":86842},{"g":16,"x":714572,"y":86899},{"g":16,"x":714631,"y":86934},{"g":16,"x":714725,"y":86941},{"g":16,"x":714836,"y":86913},{"g":16,"x":714896,"y":86843},{"g":17,"x":714546,"y":86843},{"g":17,"x":714623,"y":86828},{"g":17,"x":714708,"y":86786},{"g":17,"x":714785,"y":86758},{"g":17,"x":714854,"y":86755},{"g":17,"x":714888,"y":86775},{"g":18,"x":714751,"y":86878},{"g":18,"x":714785,"y":86902},{"g":18,"x":714806,"y":86878},{"g":18,"x":714802,"y":86857},{"g":18,"x":714777,"y":86840},{"g":18,"x":714751,"y":86878},{"g":19,"x":714546,"y":86973},{"g":19,"x":714640,"y":87036},{"g":19,"x":714725,"y":87005},{"g":19,"x":714854,"y":86998},{"g":19,"x":714922,"y":86984},{"g":19,"x":714982,"y":86896},{"g":20,"x":714700,"y":87118},{"g":20,"x":714819,"y":87083},{"g":20,"x":714896,"y":87083},{"g":20,"x":714973,"y":87125},{"g":20,"x":715033,"y":87189},{"g":20,"x":715170,"y":87168},{"g":21,"x":714742,"y":87189},{"g":21,"x":714819,"y":87139},{"g":21,"x":714905,"y":87139},{"g":21,"x":714973,"y":87196},{"g":21,"x":715041,"y":87245},{"g":21,"x":715153,"y":87238},{"g":21,"x":715221,"y":87231},{"g":22,"x":714785,"y":87224},{"g":22,"x":714854,"y":87175},{"g":22,"x":714922,"y":87175},{"g":22,"x":715007,"y":87267},{"g":22,"x":715075,"y":87309},{"g":22,"x":715161,"y":87302},{"g":22,"x":715238,"y":87309},{"g":22,"x":715238,"y":87380},{"g":22,"x":715230,"y":87472},{"g":23,"x":714828,"y":87245},{"g":23,"x":714871,"y":87210},{"g":23,"x":714913,"y":87231},{"g":23,"x":714959,"y":87295}],
"lb":[{"g":1,"x":713387,"y":87632},{"g":1,"x":713462,"y":87677},{"g":1,"x":713523,"y":87701},{"g":2,"x":713387,"y":87564},{"g":2,"x":713514,"y":87627},{"g":2,"x":713687,"y":87701},{"g":3,"x":713436,"y":87521},{"g":3,"x":713618,"y":87599},{"g":3,"x":713869,"y":87673},{"g":4,"x":713436,"y":87450},{"g":4,"x":713531,"y":87514},{"g":4,"x":713704,"y":87578},{"g":4,"x":713860,"y":87602},{"g":4,"x":713964,"y":87602},{"g":5,"x":713523,"y":87426},{"g":5,"x":713635,"y":87486},{"g":5,"x":713791,"y":87525},{"g":5,"x":713947,"y":87528},{"g":5,"x":714068,"y":87493},{"g":5,"x":714163,"y":87450},{"g":6,"x":713531,"y":87351},{"g":6,"x":713652,"y":87415},{"g":6,"x":713808,"y":87446},{"g":6,"x":713947,"y":87446},{"g":6,"x":714068,"y":87387},{"g":6,"x":714155,"y":87302},{"g":6,"x":714207,"y":87189},{"g":6,"x":714259,"y":87097},{"g":7,"x":713609,"y":87299},{"g":7,"x":713722,"y":87351},{"g":7,"x":713860,"y":87366},{"g":7,"x":713981,"y":87344},{"g":7,"x":714085,"y":87274},{"g":7,"x":714137,"y":87175},{"g":7,"x":714189,"y":87076},{"g":7,"x":714224,"y":86991},{"g":8,"x":713774,"y":87238},{"g":8,"x":713860,"y":87238},{"g":8,"x":713947,"y":87210},{"g":8,"x":714033,"y":87118},{"g":8,"x":714120,"y":87005},{"g":8,"x":714155,"y":86906},{"g":8,"x":714146,"y":86800},{"g":9,"x":714198,"y":87005},{"g":9,"x":714215,"y":86906},{"g":9,"x":714241,"y":86807},{"g":9,"x":714250,"y":86722},{"g":10,"x":714302,"y":86941},{"g":10,"x":714319,"y":86849},{"g":10,"x":714354,"y":86750},{"g":11,"x":714397,"y":86906},{"g":11,"x":714414,"y":86821},{"g":11,"x":714440,"y":86725},{"g":12,"x":713917,"y":87015},{"g":12,"x":713938,"y":86998},{"g":13,"x":713964,"y":86965},{"g":13,"x":713995,"y":86906},{"g":14,"x":714285,"y":87274},{"g":14,"x":714302,"y":87245},{"g":15,"x":714596,"y":87047},{"g":15,"x":714640,"y":86906},{"g":15,"x":714709,"y":86821},{"g":15,"x":714761,"y":86722},{"g":16,"x":714695,"y":87146},{"g":16,"x":714761,"y":87005},{"g":16,"x":714787,"y":86906},{"g":16,"x":714882,"y":86778},{"g":17,"x":714787,"y":87231},{"g":17,"x":714865,"y":87104},{"g":17,"x":714908,"y":87005},{"g":17,"x":714960,"y":86899},{"g":18,"x":714913,"y":87274},{"g":18,"x":714986,"y":87175},{"g":18,"x":715059,"y":87076},{"g":19,"x":715155,"y":87302},{"g":19,"x":715180,"y":87327},{"g":19,"x":715173,"y":87288},{"g":19,"x":715155,"y":87302}],
"lc":[{"g":1,"x":713446,"y":87706},{"g":1,"x":713446,"y":87645},{"g":1,"x":713431,"y":87607},{"g":2,"x":713557,"y":87699},{"g":2,"x":713549,"y":87618},{"g":2,"x":713538,"y":87564},{"g":2,"x":713565,"y":87509},{"g":3,"x":713655,"y":87702},{"g":3,"x":713619,"y":87652},{"g":3,"x":713606,"y":87577},{"g":3,"x":713639,"y":87496},{"g":3,"x":713688,"y":87455},{"g":4,"x":713672,"y":87598},{"g":4,"x":713712,"y":87665},{"g":4,"x":713786,"y":87679},{"g":4,"x":713843,"y":87631},{"g":4,"x":713835,"y":87550},{"g":4,"x":713786,"y":87482},{"g":4,"x":713704,"y":87469},{"g":4,"x":713663,"y":87523},{"g":4,"x":713672,"y":87598},{"g":5,"x":713708,"y":87584},{"g":5,"x":713745,"y":87638},{"g":5,"x":713794,"y":87631},{"g":5,"x":713802,"y":87570},{"g":5,"x":713761,"y":87523},{"g":5,"x":713712,"y":87516},{"g":5,"x":713708,"y":87584},{"g":6,"x":713750,"y":87607},{"g":6,"x":713753,"y":87577},{"g":7,"x":713835,"y":87699},{"g":7,"x":713859,"y":87618},{"g":7,"x":713835,"y":87523},{"g":7,"x":713851,"y":87442},{"g":7,"x":713900,"y":87401},{"g":7,"x":714015,"y":87360},{"g":8,"x":713881,"y":87699},{"g":8,"x":713900,"y":87618},{"g":8,"x":713876,"y":87550},{"g":9,"x":713810,"y":87354},{"g":9,"x":713884,"y":87388},{"g":9,"x":713982,"y":87360},{"g":9,"x":714047,"y":87266},{"g":9,"x":714113,"y":87144},{"g":9,"x":714162,"y":87035},{"g":10,"x":713761,"y":87286},{"g":10,"x":713835,"y":87354},{"g":10,"x":713933,"y":87360},{"g":10,"x":714007,"y":87279},{"g":10,"x":714064,"y":87157},{"g":10,"x":714113,"y":87062},{"g":10,"x":714145,"y":86981},{"g":11,"x":713819,"y":87293},{"g":11,"x":713900,"y":87330},{"g":11,"x":713958,"y":87293},{"g":11,"x":714007,"y":87184},{"g":11,"x":714056,"y":87089},{"g":11,"x":714096,"y":86994},{"g":12,"x":713868,"y":87238},{"g":12,"x":713908,"y":87286},{"g":12,"x":713941,"y":87266},{"g":12,"x":713966,"y":87157},{"g":12,"x":713974,"y":87035},{"g":12,"x":713941,"y":87028},{"g":13,"x":713851,"y":87177},{"g":13,"x":713843,"y":87130},{"g":14,"x":714096,"y":87442},{"g":14,"x":714105,"y":87347},{"g":14,"x":714137,"y":87252},{"g":14,"x":714178,"y":87117},{"g":14,"x":714211,"y":87022},{"g":15,"x":714227,"y":87198},{"g":15,"x":714235,"y":87089},{"g":15,"x":714276,"y":87022},{"g":16,"x":714039,"y":86886},{"g":16,"x":714096,"y":86967},{"g":16,"x":714178,"y":87022},{"g":17,"x":714129,"y":86812},{"g":17,"x":714162,"y":86886},{"g":17,"x":714227,"y":86947},{"g":18,"x":714276,"y":86873},{"g":18,"x":714317,"y":86893},{"g":18,"x":714358,"y":86873},{"g":18,"x":714358,"y":86805},{"g":18,"x":714317,"y":86784},{"g":18,"x":714276,"y":86805},{"g":18,"x":714276,"y":86873},{"g":19,"x":714431,"y":86730},{"g":19,"x":714480,"y":86778},{"g":19,"x":714530,"y":86832},{"g":19,"x":714521,"y":86927},{"g":20,"x":714565,"y":87008},{"g":20,"x":714652,"y":86900},{"g":20,"x":714734,"y":86832},{"g":20,"x":714815,"y":86785},{"g":21,"x":714611,"y":87022},{"g":21,"x":714685,"y":86927},{"g":21,"x":714815,"y":86873},{"g":21,"x":714930,"y":86832},{"g":22,"x":714652,"y":87035},{"g":22,"x":714734,"y":86947},{"g":22,"x":714864,"y":86914},{"g":22,"x":714955,"y":86902},{"g":23,"x":714692,"y":87069},{"g":23,"x":714750,"y":86994},{"g":23,"x":714864,"y":86947},{"g":23,"x":714955,"y":86947},{"g":24,"x":714734,"y":87056},{"g":24,"x":714766,"y":87130},{"g":24,"x":714840,"y":87164},{"g":24,"x":714913,"y":87130},{"g":24,"x":714921,"y":87056},{"g":24,"x":714856,"y":86981},{"g":24,"x":714766,"y":86987},{"g":24,"x":714734,"y":87056},{"g":25,"x":714758,"y":87062},{"g":25,"x":714815,"y":87150},{"g":25,"x":714881,"y":87110},{"g":25,"x":714873,"y":87035},{"g":25,"x":714815,"y":87008},{"g":25,"x":714758,"y":87062},{"g":26,"x":714799,"y":87056},{"g":26,"x":714824,"y":87089},{"g":26,"x":714856,"y":87062},{"g":26,"x":714815,"y":87035},{"g":26,"x":714799,"y":87056},{"g":27,"x":714709,"y":87130},{"g":27,"x":714783,"y":87198},{"g":27,"x":714864,"y":87232},{"g":27,"x":714945,"y":87232},{"g":28,"x":714946,"y":87028},{"g":28,"x":715044,"y":87056},{"g":28,"x":715093,"y":87056},{"g":29,"x":715052,"y":87360},{"g":29,"x":715060,"y":87306},{"g":29,"x":715052,"y":87245},{"g":30,"x":715125,"y":87377},{"g":30,"x":715150,"y":87306},{"g":30,"x":715162,"y":87238},{"g":31,"x":715167,"y":87401},{"g":31,"x":715191,"y":87306},{"g":31,"x":715224,"y":87225},{"g":32,"x":715204,"y":87428},{"g":32,"x":715207,"y":87360},{"g":32,"x":715229,"y":87293}],
"ld":[{"g":1,"x":713439,"y":87612},{"g":1,"x":713464,"y":87551},{"g":2,"x":713464,"y":87707},{"g":2,"x":713513,"y":87585},{"g":2,"x":713555,"y":87450},{"g":3,"x":713522,"y":87700},{"g":3,"x":713571,"y":87585},{"g":3,"x":713637,"y":87477},{"g":3,"x":713753,"y":87396},{"g":3,"x":713886,"y":87382},{"g":3,"x":713952,"y":87328},{"g":3,"x":713960,"y":87193},{"g":3,"x":713952,"y":86990},{"g":4,"x":713563,"y":87700},{"g":4,"x":713629,"y":87572},{"g":4,"x":713712,"y":87491},{"g":4,"x":713820,"y":87436},{"g":4,"x":713919,"y":87409},{"g":4,"x":713985,"y":87342},{"g":4,"x":713985,"y":87193},{"g":4,"x":713985,"y":86963},{"g":5,"x":713604,"y":87700},{"g":5,"x":713679,"y":87585},{"g":5,"x":713770,"y":87504},{"g":5,"x":713886,"y":87477},{"g":5,"x":713985,"y":87450},{"g":5,"x":714035,"y":87369},{"g":5,"x":714027,"y":87193},{"g":5,"x":714035,"y":87031},{"g":5,"x":714101,"y":86882},{"g":5,"x":714200,"y":86787},{"g":5,"x":714333,"y":86754},{"g":5,"x":714499,"y":86787},{"g":5,"x":714648,"y":86828},{"g":5,"x":714763,"y":86869},{"g":5,"x":714863,"y":86950},{"g":5,"x":714888,"y":87085},{"g":5,"x":714946,"y":87153},{"g":5,"x":714995,"y":87220},{"g":6,"x":713662,"y":87700},{"g":6,"x":713745,"y":87599},{"g":6,"x":713869,"y":87504},{"g":6,"x":713985,"y":87491},{"g":6,"x":714060,"y":87423},{"g":6,"x":714076,"y":87301},{"g":6,"x":714085,"y":87139},{"g":6,"x":714143,"y":86963},{"g":6,"x":714234,"y":86842},{"g":6,"x":714350,"y":86787},{"g":6,"x":714499,"y":86828},{"g":6,"x":714648,"y":86882},{"g":6,"x":714780,"y":86909},{"g":6,"x":714863,"y":86977},{"g":6,"x":714863,"y":87112},{"g":6,"x":714921,"y":87220},{"g":7,"x":713720,"y":87700},{"g":7,"x":713820,"y":87585},{"g":7,"x":713969,"y":87518},{"g":7,"x":714101,"y":87491},{"g":7,"x":714118,"y":87382},{"g":7,"x":714118,"y":87193},{"g":7,"x":714184,"y":87004},{"g":7,"x":714283,"y":86869},{"g":7,"x":714399,"y":86828},{"g":7,"x":714515,"y":86869},{"g":7,"x":714664,"y":86936},{"g":7,"x":714780,"y":86977},{"g":7,"x":714830,"y":87085},{"g":7,"x":714846,"y":87234},{"g":8,"x":713803,"y":87687},{"g":8,"x":713894,"y":87660},{"g":9,"x":713969,"y":87545},{"g":9,"x":714076,"y":87511},{"g":10,"x":714184,"y":87450},{"g":10,"x":714184,"y":87342},{"g":10,"x":714151,"y":87301},{"g":10,"x":714167,"y":87139},{"g":10,"x":714250,"y":87031},{"g":11,"x":714217,"y":87207},{"g":11,"x":714250,"y":87071},{"g":11,"x":714267,"y":87004},{"g":12,"x":713513,"y":87531},{"g":12,"x":713555,"y":87450},{"g":13,"x":713588,"y":87382},{"g":13,"x":713654,"y":87315},{"g":13,"x":713704,"y":87281},{"g":14,"x":713571,"y":87355},{"g":14,"x":713596,"y":87328},{"g":15,"x":713654,"y":87396},{"g":15,"x":713737,"y":87342},{"g":15,"x":713820,"y":87355},{"g":15,"x":713902,"y":87355},{"g":15,"x":713936,"y":87301},{"g":15,"x":713919,"y":87234},{"g":15,"x":713894,"y":87139},{"g":16,"x":713621,"y":87382},{"g":16,"x":713720,"y":87315},{"g":16,"x":713820,"y":87301},{"g":16,"x":713886,"y":87315},{"g":17,"x":713919,"y":87071},{"g":17,"x":713931,"y":86984},{"g":18,"x":714035,"y":86896},{"g":18,"x":714060,"y":86842},{"g":19,"x":714085,"y":86896},{"g":19,"x":714109,"y":86842},{"g":20,"x":714250,"y":86815},{"g":20,"x":714383,"y":86760},{"g":20,"x":714515,"y":86760},{"g":20,"x":714681,"y":86787},{"g":20,"x":714780,"y":86828},{"g":20,"x":714913,"y":86869},{"g":21,"x":714772,"y":86733},{"g":21,"x":714846,"y":86760},{"g":22,"x":714929,"y":86936},{"g":22,"x":714979,"y":87058},{"g":22,"x":715028,"y":87139},{"g":22,"x":715075,"y":87180},{"g":23,"x":714995,"y":86963},{"g":23,"x":715028,"y":87058},{"g":23,"x":715078,"y":87098},{"g":24,"x":715020,"y":86984},{"g":24,"x":715053,"y":87051},{"g":24,"x":715078,"y":87078},{"g":25,"x":715012,"y":87335},{"g":25,"x":715103,"y":87362},{"g":25,"x":715227,"y":87322},{"g":26,"x":715012,"y":87274},{"g":26,"x":715103,"y":87322},{"g":26,"x":715235,"y":87234},{"g":27,"x":715053,"y":87254},{"g":27,"x":715120,"y":87288},{"g":27,"x":715186,"y":87240},{"g":28,"x":715161,"y":87403},{"g":28,"x":715244,"y":87369},{"g":29,"x":714300,"y":86957},{"g":29,"x":714358,"y":86920},{"g":30,"x":714548,"y":86984},{"g":30,"x":714565,"y":87017}],
"le":[{"g":1,"x":711611,"y":92462},{"g":1,"x":711638,"y":92456},{"g":1,"x":711662,"y":92449},{"g":2,"x":711620,"y":92433},{"g":2,"x":711633,"y":92430},{"g":3,"x":711584,"y":92404},{"g":3,"x":711555,"y":92394},{"g":3,"x":711535,"y":92365},{"g":3,"x":711533,"y":92327},{"g":3,"x":711541,"y":92292},{"g":3,"x":711551,"y":92274},{"g":5,"x":711567,"y":92338},{"g":5,"x":711566,"y":92303},{"g":6,"x":711678,"y":92385},{"g":6,"x":711704,"y":92380},{"g":7,"x":711678,"y":92362},{"g":7,"x":711706,"y":92359},{"g":8,"x":711678,"y":92334},{"g":8,"x":711704,"y":92334},{"g":9,"x":711683,"y":92268},{"g":9,"x":711693,"y":92283},{"g":9,"x":711706,"y":92288},{"g":10,"x":711478,"y":92312},{"g":10,"x":711493,"y":92286},{"g":10,"x":711508,"y":92254},{"g":11,"x":711496,"y":92312},{"g":11,"x":711508,"y":92292},{"g":11,"x":711517,"y":92271},{"g":12,"x":711514,"y":92312},{"g":12,"x":711530,"y":92280},{"g":13,"x":711468,"y":92280},{"g":13,"x":711477,"y":92245},{"g":14,"x":711430,"y":92200},{"g":14,"x":711457,"y":92195},{"g":14,"x":711481,"y":92185},{"g":15,"x":711380,"y":92152},{"g":15,"x":711399,"y":92175},{"g":15,"x":711425,"y":92179},{"g":15,"x":711461,"y":92172},{"g":15,"x":711484,"y":92159},{"g":16,"x":711385,"y":92012},{"g":16,"x":711383,"y":92087},{"g":16,"x":711396,"y":92140},{"g":16,"x":711417,"y":92155},{"g":16,"x":711446,"y":92155},{"g":16,"x":711464,"y":92151},{"g":17,"x":711401,"y":92012},{"g":17,"x":711404,"y":92047},{"g":18,"x":711420,"y":92012},{"g":18,"x":711421,"y":92047},{"g":19,"x":711371,"y":92012},{"g":19,"x":711371,"y":92023},{"g":21,"x":711562,"y":92233},{"g":21,"x":711575,"y":92204},{"g":21,"x":711575,"y":92175},{"g":22,"x":711567,"y":92251},{"g":22,"x":711588,"y":92216},{"g":22,"x":711595,"y":92181},{"g":23,"x":711590,"y":92254},{"g":23,"x":711609,"y":92228},{"g":24,"x":711611,"y":92298},{"g":24,"x":711620,"y":92263},{"g":24,"x":711635,"y":92222},{"g":25,"x":711508,"y":92172},{"g":25,"x":711530,"y":92172},{"g":25,"x":711532,"y":92190},{"g":26,"x":711497,"y":92155},{"g":26,"x":711526,"y":92146},{"g":26,"x":711551,"y":92160},{"g":27,"x":711504,"y":92137},{"g":27,"x":711530,"y":92131},{"g":27,"x":711559,"y":92139},{"g":28,"x":711508,"y":92120},{"g":28,"x":711530,"y":92117},{"g":28,"x":711551,"y":92118},{"g":29,"x":711443,"y":92047},{"g":29,"x":711445,"y":92070},{"g":29,"x":711457,"y":92085},{"g":29,"x":711490,"y":92088},{"g":30,"x":711396,"y":92194},{"g":30,"x":711405,"y":92198},{"g":31,"x":711421,"y":92125},{"g":31,"x":711430,"y":92131}],
"lf":[{"g":1,"x":711533,"y":92388},{"g":1,"x":711581,"y":92407},{"g":2,"x":711525,"y":92334},{"g":2,"x":711578,"y":92353},{"g":3,"x":711464,"y":92264},{"g":3,"x":711576,"y":92302},{"g":4,"x":711679,"y":92388},{"g":4,"x":711704,"y":92397},{"g":5,"x":711679,"y":92337},{"g":5,"x":711704,"y":92346},{"g":6,"x":711670,"y":92285},{"g":6,"x":711704,"y":92296},{"g":7,"x":711567,"y":92250},{"g":7,"x":711581,"y":92254},{"g":8,"x":711592,"y":92258},{"g":8,"x":711644,"y":92276},{"g":9,"x":711559,"y":92197},{"g":9,"x":711610,"y":92213},{"g":10,"x":711625,"y":92219},{"g":10,"x":711637,"y":92223},{"g":11,"x":711429,"y":92202},{"g":11,"x":711465,"y":92215},{"g":12,"x":711397,"y":92191},{"g":12,"x":711413,"y":92197},{"g":13,"x":711380,"y":92135},{"g":13,"x":711482,"y":92170},{"g":14,"x":711371,"y":92083},{"g":14,"x":711396,"y":92090},{"g":15,"x":711380,"y":92034},{"g":15,"x":711411,"y":92046},{"g":16,"x":711438,"y":92055},{"g":16,"x":711499,"y":92076},{"g":17,"x":711507,"y":92128},{"g":17,"x":711559,"y":92147},{"g":18,"x":711516,"y":92182},{"g":18,"x":711525,"y":92185}],
"lg":[{"g":1,"x":711490,"y":92398},{"g":1,"x":711513,"y":92419},{"g":2,"x":711678,"y":92348},{"g":2,"x":711702,"y":92353},{"g":3,"x":711685,"y":92311},{"g":3,"x":711702,"y":92313},{"g":4,"x":711441,"y":92333},{"g":4,"x":711433,"y":92297},{"g":4,"x":711433,"y":92272},{"g":5,"x":711481,"y":92321},{"g":5,"x":711470,"y":92291},{"g":5,"x":711470,"y":92259},{"g":6,"x":711623,"y":92270},{"g":6,"x":711601,"y":92256},{"g":6,"x":711590,"y":92231},{"g":6,"x":711592,"y":92209},{"g":7,"x":711404,"y":92233},{"g":7,"x":711432,"y":92158},{"g":8,"x":711407,"y":92106},{"g":8,"x":711417,"y":92091},{"g":9,"x":711550,"y":92119},{"g":9,"x":711590,"y":92069},{"g":10,"x":711536,"y":92094},{"g":10,"x":711575,"y":92046},{"g":11,"x":711571,"y":92131},{"g":11,"x":711582,"y":92117},{"g":12,"x":711488,"y":91979},{"g":12,"x":711517,"y":91942}],
"lh":[{"g":1,"x":711678,"y":92370},{"g":1,"x":711680,"y":92321},{"g":2,"x":711696,"y":92383},{"g":2,"x":711698,"y":92308},{"g":3,"x":711606,"y":92281},{"g":3,"x":711608,"y":92195},{"g":4,"x":711426,"y":92220},{"g":4,"x":711427,"y":92156},{"g":5,"x":711571,"y":92131},{"g":5,"x":711576,"y":92043},{"g":6,"x":711524,"y":91954},{"g":6,"x":711525,"y":91942}]
},
"vconcat":[
{"hconcat":[
{"width":499,"height":258,"encoding":{"x":{"field":"x","type":"quantitative","scale":{"domain":[713271,715391],"nice":false,"zero":false},"axis":{"values":[713500,714000,714500,715000]}},"y":{"field":"y","type":"quantitative","scale":{"domain":[86669,87763],"nice":false,"zero":false},"axis":{"values":[86750,87000,87250,87500,87750]}}},
"layer":[
{"data":{"values":[{"x":713364,"x2":715302,"y":86707,"y2":87712}]},"mark":{"type":"rect","color":"#bebebe"},"encoding":{"x2":{"field":"x2"},"y2":{"field":"y2"}}},
{"data":{"name":"ab"},"mark":{"type":"rect","height":12.3},"encoding":{"x2":{"field":"x2"},"color":{"field":"a","type":"quantitative","scale":{"domain":[0.2,3.8]},"legend":{"title":"s(x)","legendX":523,"legendY":62,"values":[1,2,3],"format":"d","gradientLength":119,"gradientThickness":24,"labelFontSize":13,"titleFontSize":15}}}},
{"data":{"name":"la"},"mark":{"type":"line","color":"#111","strokeWidth":1.7,"interpolate":"cardinal","order":false},"encoding":{"detail":{"field":"g"}}},
{"data":{"name":"gx"},"mark":{"type":"rule","color":"#222","strokeWidth":1.3},"encoding":{"y":null}},
{"data":{"name":"gy"},"mark":{"type":"rule","color":"#222","strokeWidth":1.3},"encoding":{"x":null}},
{"data":{"name":"pts"},"mark":{"type":"point","filled":true,"size":85,"color":"#e01b24","stroke":"#ccc","strokeWidth":0.6,"opacity":1,"clip":true}},
{"data":{"values":[{"x":713360,"y":87835,"t":"a) Total No. of"},{"x":714737,"y":87835,"t":"eggs laid"}]},"mark":{"type":"text","align":"left","baseline":"alphabetic","font":"Lato","fontSize":25.5,"color":"#1a1a1a"},"encoding":{"text":{"field":"t"}}},
{"data":{"values":[{"x":714040,"y":87835,"t":"Ae. albopictus"}]},"mark":{"type":"text","align":"left","baseline":"alphabetic","font":"Lato","fontStyle":"italic","fontSize":27,"color":"#1a1a1a"},"encoding":{"text":{"field":"t"}}}]},
{"width":500,"height":261,"encoding":{"x":{"field":"x","type":"quantitative","scale":{"domain":[713271,715390],"nice":false,"zero":false},"axis":{"values":[713500,714000,714500,715000]}},"y":{"field":"y","type":"quantitative","scale":{"domain":[86661,87771],"nice":false,"zero":false},"axis":{"values":[86750,87000,87250,87500,87750]}}},
"layer":[
{"data":{"values":[{"x":713364,"x2":715302,"y":86707,"y2":87712}]},"mark":{"type":"rect","color":"#bebebe"},"encoding":{"x2":{"field":"x2"},"y2":{"field":"y2"}}},
{"data":{"name":"ab"},"mark":{"type":"rect","height":12.3},"encoding":{"x2":{"field":"x2"},"color":{"field":"b","type":"quantitative","scale":{"domain":[0.395,0.6]},"legend":{"title":"s(x)","legendX":525,"legendY":62,"values":[0.4,0.45,0.5,0.55,0.6],"format":".2f","gradientLength":122,"gradientThickness":24,"labelFontSize":13,"titleFontSize":15}}}},
{"data":{"name":"lb"},"mark":{"type":"line","color":"#111","strokeWidth":1.7,"interpolate":"cardinal","order":false},"encoding":{"detail":{"field":"g"}}},
{"data":{"name":"gx"},"mark":{"type":"rule","color":"#222","strokeWidth":1.3},"encoding":{"y":null}},
{"data":{"name":"gy"},"mark":{"type":"rule","color":"#222","strokeWidth":1.3},"encoding":{"x":null}},
{"data":{"name":"pts"},"mark":{"type":"point","filled":true,"size":85,"color":"#e01b24","stroke":"#ccc","strokeWidth":0.6,"opacity":1,"clip":true}},
{"data":{"values":[{"x":713360,"y":87839,"t":"b) Percentage of"},{"x":714847,"y":87839,"t":"eggs hatched"}]},"mark":{"type":"text","align":"left","baseline":"alphabetic","font":"Lato","fontSize":25.5,"color":"#1a1a1a"},"encoding":{"text":{"field":"t"}}},
{"data":{"values":[{"x":714144,"y":87839,"t":"Ae. albopictus"}]},"mark":{"type":"text","align":"left","baseline":"alphabetic","font":"Lato","fontStyle":"italic","fontSize":27,"color":"#1a1a1a"},"encoding":{"text":{"field":"t"}}}]}
],"spacing":130,"bounds":"flush","resolve":{"scale":{"color":"independent"}}},
{"data":{"values":[{"a":1}]},"mark":{"type":"rect","opacity":0},"width":10,"height":35,"view":{"stroke":null,"fill":null}},
{"hconcat":[
{"width":499,"height":267,"encoding":{"x":{"field":"x","type":"quantitative","scale":{"domain":[713312,715349],"nice":false,"zero":false},"axis":{"values":[713500,714000,714500,715000]}},"y":{"field":"y","type":"quantitative","scale":{"domain":[86677,87762],"nice":false,"zero":false},"axis":{"values":[86750,87000,87250,87500,87750]}}},
"layer":[
{"data":{"values":[{"x":713398,"x2":715263,"y":86717,"y2":87720}]},"mark":{"type":"rect","color":"#bebebe"},"encoding":{"x2":{"field":"x2"},"y2":{"field":"y2"}}},
{"data":{"name":"cc"},"mark":{"type":"rect","height":12.8},"encoding":{"x2":{"field":"x2"},"color":{"field":"v","type":"quantitative","scale":{"domain":[0.22,2.33]},"legend":{"title":"s(x)","legendX":524,"legendY":65,"values":[0.5,1,1.5,2],"format":".1f","gradientLength":120,"gradientThickness":24,"labelFontSize":13,"titleFontSize":15}}}},
{"data":{"name":"lc"},"mark":{"type":"line","color":"#111","strokeWidth":1.7,"interpolate":"cardinal","order":false},"encoding":{"detail":{"field":"g"}}},
{"data":{"name":"gx"},"mark":{"type":"rule","color":"#222","strokeWidth":1.3},"encoding":{"y":null}},
{"data":{"name":"gy"},"mark":{"type":"rule","color":"#222","strokeWidth":1.3},"encoding":{"x":null}},
{"data":{"name":"pts"},"mark":{"type":"point","filled":true,"size":85,"color":"#e01b24","stroke":"#ccc","strokeWidth":0.6,"opacity":1,"clip":true}},
{"data":{"values":[{"x":713402,"y":87843,"t":"c) No. of"},{"x":714483,"y":87843,"t":"adult females"}]},"mark":{"type":"text","align":"left","baseline":"alphabetic","font":"Lato","fontSize":25.5,"color":"#1a1a1a"},"encoding":{"text":{"field":"t"}}},
{"data":{"values":[{"x":713802,"y":87843,"t":"Ae. albopictus"}]},"mark":{"type":"text","align":"left","baseline":"alphabetic","font":"Lato","fontStyle":"italic","fontSize":27,"color":"#1a1a1a"},"encoding":{"text":{"field":"t"}}}]},
{"width":499,"height":268,"encoding":{"x":{"field":"x","type":"quantitative","scale":{"domain":[713326,715349],"nice":false,"zero":false},"axis":{"values":[713500,714000,714500,715000]}},"y":{"field":"y","type":"quantitative","scale":{"domain":[86676,87762],"nice":false,"zero":false},"axis":{"values":[86750,87000,87250,87500,87750]}}},
"layer":[
{"data":{"values":[{"x":713411,"x2":715268,"y":86717,"y2":87720}]},"mark":{"type":"rect","color":"#bebebe"},"encoding":{"x2":{"field":"x2"},"y2":{"field":"y2"}}},
{"data":{"name":"dd"},"mark":{"type":"rect","height":12.8},"encoding":{"x2":{"field":"x2"},"color":{"field":"v","type":"quantitative","scale":{"domain":[0.33,2.59]},"legend":{"title":"s(x)","legendX":524,"legendY":65,"values":[0.5,1,1.5,2,2.5],"format":".1f","gradientLength":121,"gradientThickness":24,"labelFontSize":13,"titleFontSize":15}}}},
{"data":{"name":"ld"},"mark":{"type":"line","color":"#111","strokeWidth":1.7,"interpolate":"cardinal","order":false},"encoding":{"detail":{"field":"g"}}},
{"data":{"name":"gx"},"mark":{"type":"rule","color":"#222","strokeWidth":1.3},"encoding":{"y":null}},
{"data":{"name":"gy"},"mark":{"type":"rule","color":"#222","strokeWidth":1.3},"encoding":{"x":null}},
{"data":{"name":"pts"},"mark":{"type":"point","filled":true,"size":85,"color":"#e01b24","stroke":"#ccc","strokeWidth":0.6,"opacity":1,"clip":true}},
{"data":{"values":[{"x":713407,"y":87843,"t":"d) No. of"},{"x":714489,"y":87843,"t":"adult males"}]},"mark":{"type":"text","align":"left","baseline":"alphabetic","font":"Lato","fontSize":25.5,"color":"#1a1a1a"},"encoding":{"text":{"field":"t"}}},
{"data":{"values":[{"x":713816,"y":87843,"t":"Ae. albopictus"}]},"mark":{"type":"text","align":"left","baseline":"alphabetic","font":"Lato","fontStyle":"italic","fontSize":27,"color":"#1a1a1a"},"encoding":{"text":{"field":"t"}}}]}
],"spacing":131,"bounds":"flush","resolve":{"scale":{"color":"independent"}}},
{"data":{"values":[{"a":1}]},"mark":{"type":"rect","opacity":0},"width":10,"height":53,"view":{"stroke":null,"fill":null}},
{"hconcat":[
{"data":{"values":[{"a":1}]},"mark":{"type":"rect","opacity":0},"width":4,"height":1,"view":{"stroke":null,"fill":null}},
{"width":215,"height":291,"encoding":{"x":{"field":"x","type":"quantitative","scale":{"domain":[711349,711726],"nice":false,"zero":false},"axis":{"values":[711400,711500,711600,711700],"labelFontSize":10}},"y":{"field":"y","type":"quantitative","scale":{"domain":[91982,92493],"nice":false,"zero":false},"axis":{"values":[92000,92100,92200,92300,92400],"labelFontSize":10}}},
"layer":[
{"data":{"values":[{"x":711365,"x2":711709,"y":92005,"y2":92472}]},"mark":{"type":"rect","color":"#bebebe"},"encoding":{"x2":{"field":"x2"},"y2":{"field":"y2"}}},
{"data":{"name":"ef"},"mark":{"type":"rect","height":13.7},"encoding":{"x2":{"field":"x2"},"color":{"field":"e","type":"quantitative","scale":{"domain":[0.39,1.9]},"legend":{"title":"s(x)","legendX":233,"legendY":92,"values":[0.4,0.8,1.2,1.6],"format":".1f","gradientLength":94,"gradientThickness":18,"labelFontSize":10,"titleFontSize":11}}}},
{"data":{"name":"le"},"mark":{"type":"line","color":"#111","strokeWidth":1.6,"interpolate":"cardinal","order":false},"encoding":{"detail":{"field":"g"}}},
{"data":{"values":[{"x":711302,"y":92528,"t":"e) Total No. of eggs laid"}]},"mark":{"type":"text","align":"left","baseline":"alphabetic","font":"Lato","fontSize":25.5,"color":"#1a1a1a"},"encoding":{"text":{"field":"t"}}}]},
{"data":{"values":[{"a":1}]},"mark":{"type":"rect","opacity":0},"width":113,"height":1,"view":{"stroke":null,"fill":null}},
{"width":215,"height":291,"encoding":{"x":{"field":"x","type":"quantitative","scale":{"domain":[711347,711724],"nice":false,"zero":false},"axis":{"values":[711400,711500,711600,711700],"labelFontSize":10}},"y":{"field":"y","type":"quantitative","scale":{"domain":[91983,92495],"nice":false,"zero":false},"axis":{"values":[92000,92100,92200,92300,92400],"labelFontSize":10}}},
"layer":[
{"data":{"values":[{"x":711367,"x2":711709,"y":92003,"y2":92470}]},"mark":{"type":"rect","color":"#bebebe"},"encoding":{"x2":{"field":"x2"},"y2":{"field":"y2"}}},
{"data":{"name":"ef"},"mark":{"type":"rect","height":13.7},"encoding":{"x2":{"field":"x2"},"color":{"field":"f","type":"quantitative","scale":{"domain":[0.42,0.575]},"legend":{"title":"s(x)","legendX":233,"legendY":92,"values":[0.46,0.5,0.54],"format":".2f","gradientLength":93,"gradientThickness":18,"labelFontSize":10,"titleFontSize":11}}}},
{"data":{"name":"lf"},"mark":{"type":"line","color":"#111","strokeWidth":1.6,"interpolate":"cardinal","order":false},"encoding":{"detail":{"field":"g"}}},
{"data":{"values":[{"x":711272,"y":92530,"t":"f) Percentage eggs hatched"}]},"mark":{"type":"text","align":"left","baseline":"alphabetic","font":"Lato","fontSize":25.5,"color":"#1a1a1a"},"encoding":{"text":{"field":"t"}}}]},
{"data":{"values":[{"a":1}]},"mark":{"type":"rect","opacity":0},"width":121,"height":1,"view":{"stroke":null,"fill":null}},
{"width":186,"height":293,"encoding":{"x":{"field":"x","type":"quantitative","scale":{"domain":[711374,711721],"nice":false,"zero":false},"axis":{"values":[711400,711500,711600,711700],"labelFontSize":10}},"y":{"field":"y","type":"quantitative","scale":{"domain":[91912,92462],"nice":false,"zero":false},"axis":{"values":[92000,92100,92200,92300,92400],"labelFontSize":10}}},
"layer":[
{"data":{"values":[{"x":711387,"x2":711707,"y":91935,"y2":92443}]},"mark":{"type":"rect","color":"#bebebe"},"encoding":{"x2":{"field":"x2"},"y2":{"field":"y2"}}},
{"data":{"name":"gg"},"mark":{"type":"rect","height":13.5},"encoding":{"x2":{"field":"x2"},"color":{"field":"v","type":"quantitative","scale":{"domain":[0.45,2.18]},"legend":{"title":"s(x)","legendX":204,"legendY":91,"values":[0.5,1,1.5,2],"format":".1f","gradientLength":96,"gradientThickness":20,"labelFontSize":10,"titleFontSize":11}}}},
{"data":{"name":"lg"},"mark":{"type":"line","color":"#111","strokeWidth":1.6,"interpolate":"cardinal","order":false},"encoding":{"detail":{"field":"g"}}},
{"data":{"values":[{"x":711372,"y":92502,"t":"g) No. of females"}]},"mark":{"type":"text","align":"left","baseline":"alphabetic","font":"Lato","fontSize":25.5,"color":"#1a1a1a"},"encoding":{"text":{"field":"t"}}}]},
{"data":{"values":[{"a":1}]},"mark":{"type":"rect","opacity":0},"width":123,"height":1,"view":{"stroke":null,"fill":null}},
{"width":184,"height":290,"encoding":{"x":{"field":"x","type":"quantitative","scale":{"domain":[711374,711721],"nice":false,"zero":false},"axis":{"values":[711400,711500,711600,711700],"labelFontSize":10}},"y":{"field":"y","type":"quantitative","scale":{"domain":[91914,92467],"nice":false,"zero":false},"axis":{"values":[92000,92100,92200,92300,92400],"labelFontSize":10}}},
"layer":[
{"data":{"values":[{"x":711389,"x2":711706,"y":91935,"y2":92442}]},"mark":{"type":"rect","color":"#bebebe"},"encoding":{"x2":{"field":"x2"},"y2":{"field":"y2"}}},
{"data":{"name":"hh"},"mark":{"type":"rect","height":13.5},"encoding":{"x2":{"field":"x2"},"color":{"field":"v","type":"quantitative","scale":{"domain":[0.4,4.16]},"legend":{"title":"s(x)","legendX":199,"legendY":92,"values":[1,2,3,4],"format":"d","gradientLength":94,"gradientThickness":19,"labelFontSize":10,"titleFontSize":11}}}},
{"data":{"name":"lh"},"mark":{"type":"line","color":"#111","strokeWidth":1.6,"interpolate":"cardinal","order":false},"encoding":{"detail":{"field":"g"}}},
{"data":{"values":[{"x":711384,"y":92505,"t":"h) No. of males"}]},"mark":{"type":"text","align":"left","baseline":"alphabetic","font":"Lato","fontSize":25.5,"color":"#1a1a1a"},"encoding":{"text":{"field":"t"}}}]}
],"spacing":0,"bounds":"flush","resolve":{"scale":{"color":"independent"}}}
]}
